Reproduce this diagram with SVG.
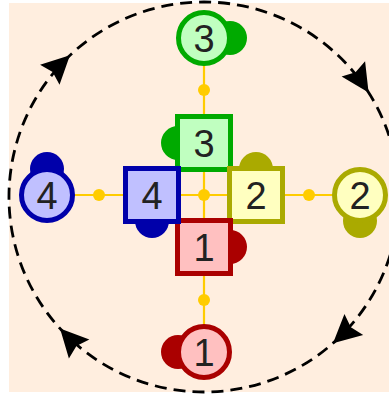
<svg xmlns="http://www.w3.org/2000/svg" width="389" height="395" viewBox="0 0 389 395">
<style>
.lbl{font-family:"Liberation Sans",Arial,sans-serif;font-size:38px;fill:#222;text-anchor:middle}
.conn{stroke:#FFCC00;stroke-width:2.2;fill:none}
.dot{fill:#FFCC00}
.g{fill:#C0FFC0;stroke:#00AA00;stroke-width:5}
.gb{fill:#00AA00}
.b{fill:#C0C0FF;stroke:#0000AA;stroke-width:5}
.bb{fill:#0000AA}
.y{fill:#FFFFC0;stroke:#AAAA00;stroke-width:5}
.yb{fill:#AAAA00}
.r{fill:#FFC0C0;stroke:#AA0000;stroke-width:5}
.rb{fill:#AA0000}
.ring{fill:none;stroke:#000;stroke-width:2.8;stroke-dasharray:12 7}
</style>
<defs>
<marker id="ah" markerUnits="userSpaceOnUse" viewBox="-32 -18 36 36" markerWidth="36" markerHeight="36" refX="0" refY="0" orient="auto" overflow="visible">
<path d="M2,0 L-26,-14 L-22,0 L-26,14 z" fill="#000"/>
</marker>
</defs>
<rect x="9" y="3" width="380" height="389" fill="#FFEEDF"/>
<path class="ring" d="M367.5,90.8 A195,195 0 0 1 334.5,341.9 A195,195 0 0 1 61.4,330 A195,195 0 0 1 68.5,56.7 A195,195 0 0 1 367.5,90.8" marker-mid="url(#ah)" marker-end="url(#ah)"/>
<g id="connectors">
<line class="conn" x1="204" y1="38" x2="204" y2="352"/>
<line class="conn" x1="47" y1="195" x2="360" y2="195"/>
<circle class="dot" cx="204" cy="90" r="6"/>
<circle class="dot" cx="204" cy="300" r="6"/>
<circle class="dot" cx="99" cy="195" r="6"/>
<circle class="dot" cx="309" cy="195" r="6"/>
<circle class="dot" cx="204" cy="195" r="6"/>
</g>
<g id="c3">
<circle class="gb" cx="230" cy="38" r="17"/>
<circle class="g" cx="204" cy="38" r="25.5"/>
<text class="lbl" x="204" y="51.5">3</text>
</g>
<g id="c4">
<circle class="bb" cx="47" cy="169" r="17"/>
<circle class="b" cx="47" cy="195" r="25.5"/>
<text class="lbl" x="47" y="208.5">4</text>
</g>
<g id="c2">
<circle class="yb" cx="360" cy="221" r="17"/>
<circle class="y" cx="360" cy="195" r="25.5"/>
<text class="lbl" x="360" y="208.5">2</text>
</g>
<g id="c1">
<circle class="rb" cx="178" cy="352" r="17"/>
<circle class="r" cx="204" cy="352" r="25.5"/>
<text class="lbl" x="204" y="365.5">1</text>
</g>
<g id="s3">
<circle class="gb" cx="178" cy="143" r="17"/>
<rect class="g" x="177.5" y="116.5" width="53" height="53"/>
<text class="lbl" x="204" y="156.5">3</text>
</g>
<g id="s2">
<circle class="yb" cx="256" cy="169" r="17"/>
<rect class="y" x="229.5" y="168.5" width="53" height="53"/>
<text class="lbl" x="256" y="208.5">2</text>
</g>
<g id="s1">
<circle class="rb" cx="230" cy="247" r="17"/>
<rect class="r" x="177.5" y="220.5" width="53" height="53"/>
<text class="lbl" x="204" y="260.5">1</text>
</g>
<g id="s4">
<circle class="bb" cx="152" cy="221" r="17"/>
<rect class="b" x="125.5" y="168.5" width="53" height="53"/>
<text class="lbl" x="152" y="208.5">4</text>
</g>
</svg>
